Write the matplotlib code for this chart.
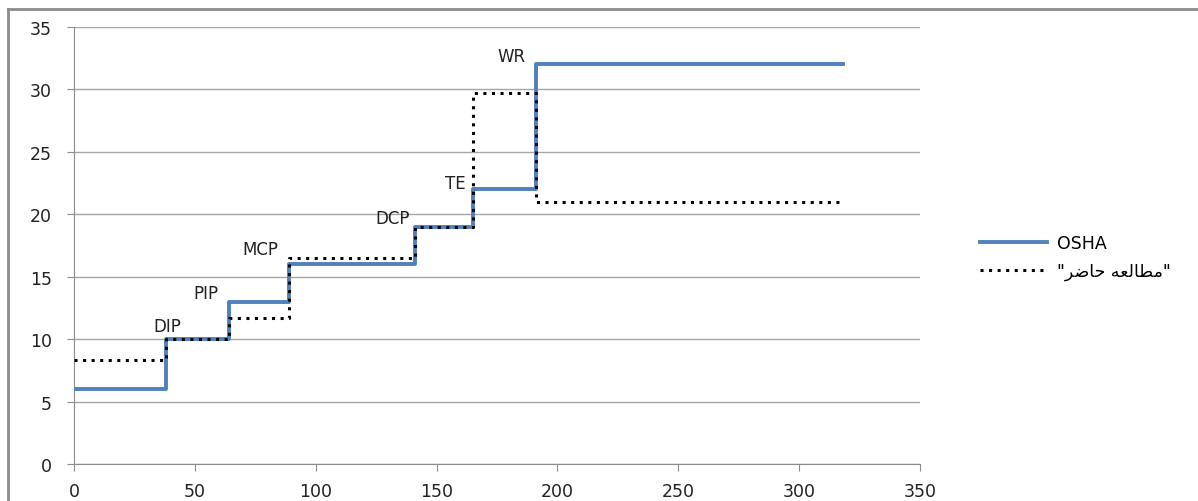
import matplotlib
matplotlib.use("Agg")
import matplotlib.pyplot as plt
from matplotlib.lines import Line2D

# step edges (x) and level reached at each edge
x_edges = [0, 38, 64, 89, 141, 165, 191, 318]
osha = [6, 10, 13, 16, 19, 22, 32, 32]
present = [8.3, 10, 11.7, 16.5, 19, 29.7, 21, 21]

joint_names = ["DIP", "PIP", "MCP", "DCP", "TE", "WR"]
joint_x = [38.5, 54.6, 77, 132, 157.6, 181]
joint_y = [11.05, 13.7, 17.2, 19.7, 22.5, 32.7]

# "مطالعه حاضر" in visual order, presentation forms (matplotlib has no bidi/shaping)
present_label = '"' + "\uFEAE\uFEBF\uFE8E\uFEA3" + " " + "\uFEEA\uFECC\uFEDF\uFE8E\uFEC4\uFEE3" + '"'

plt.rcParams["font.family"] = ["DejaVu Sans"]
plt.rcParams["font.size"] = 12

fig = plt.figure(figsize=(11.98, 5.02), dpi=100)
ax = fig.add_axes([74 / 1198, 37 / 502, 846 / 1198, 437 / 502])

ax.step(x_edges, osha, where="post", color="#4F81BD", lw=2.8, label="OSHA", zorder=3)
ax.step(x_edges, present, where="post", color="black", lw=2.2, ls=(0, (1, 1.8)),
        label=present_label, zorder=4)

for name, xx, yy in zip(joint_names, joint_x, joint_y):
    ax.text(xx, yy, name, ha="center", va="center", fontsize=12, color="#222222")

ax.set_xlim(0, 350)
ax.set_ylim(0, 35)
ax.set_xticks(range(0, 351, 50))
ax.set_yticks(range(0, 36, 5))
ax.grid(axis="y", color="#A6A6A6", lw=1)
ax.set_axisbelow(True)
for side in ("top", "right"):
    ax.spines[side].set_visible(False)
for side in ("left", "bottom"):
    ax.spines[side].set_color("#8C8C8C")
ax.tick_params(colors="#8C8C8C", labelcolor="#222222", length=5, direction="out",
               labelsize=12.5)
ax.tick_params(axis="y", pad=11)
ax.tick_params(axis="x", pad=8)

fig.legend(loc="center left", bbox_to_anchor=(964 / 1198, 1 - 258 / 502), frameon=False,
           handlelength=3.9, handletextpad=0.55, labelspacing=0.55, fontsize=12.5)

# outer chart frame
fig.add_artist(Line2D([8 / 1198, 1.0], [1 - 10 / 502] * 2, transform=fig.transFigure,
                      color="#8C8C8C", lw=2))
fig.add_artist(Line2D([8 / 1198] * 2, [0, 1 - 10 / 502], transform=fig.transFigure,
                      color="#8C8C8C", lw=2))

fig.savefig("out.png", dpi=100)
